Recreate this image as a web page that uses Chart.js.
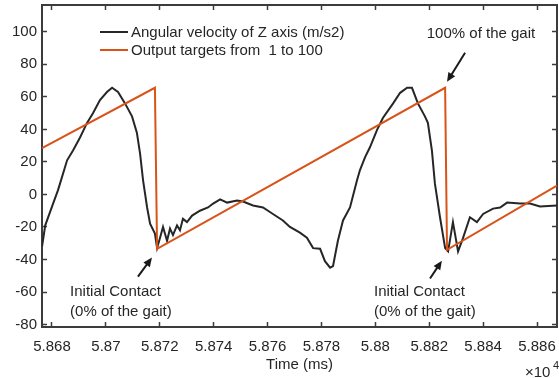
<!DOCTYPE html>
<html>
<head>
<meta charset="utf-8">
<script src="https://cdn.jsdelivr.net/npm/chart.js@4"></script>
<style>
  html, body { margin: 0; padding: 0; background: #fff; }
  canvas { display: block; }
</style>
</head>
<body>
<canvas id="grafico" width="559" height="378"></canvas>
<script>
// Tiempos (x10^4 ms) y valores
const tiempoVelocidad = [
  5.86763, 5.86775, 5.86804, 5.86822, 5.8683, 5.86856, 5.86878, 5.86904, 5.8693, 5.86952,
  5.86978, 5.87004, 5.87023, 5.87045, 5.87071, 5.87097, 5.87115, 5.87127, 5.87138, 5.87153,
  5.87164, 5.87182, 5.8719, 5.87201, 5.87212, 5.87227, 5.87238, 5.87249, 5.87264, 5.87275,
  5.87286, 5.87301, 5.8732, 5.87349, 5.87379, 5.87398, 5.87424, 5.8745, 5.87487, 5.87509,
  5.87546, 5.87583, 5.8762, 5.87657, 5.87683, 5.8772, 5.87746, 5.87769, 5.87795, 5.87813,
  5.87832, 5.87843, 5.87861, 5.8788, 5.87906, 5.87932, 5.87943, 5.87962, 5.8798, 5.88006,
  5.88028, 5.88066, 5.88092, 5.88118, 5.88136, 5.88158, 5.88184, 5.88195, 5.8821, 5.88221,
  5.8824, 5.88259, 5.8827, 5.88288, 5.88307, 5.88325, 5.88351, 5.88377, 5.884, 5.88437,
  5.88463, 5.88489, 5.88537, 5.88574, 5.88611, 5.88674
];
const velocidadAngular = [
  -32, -19, -5.6, 2.5, 6.8, 21, 27, 35, 44, 50,
  58, 63, 65.6, 63, 56, 48, 38, 25, 8.7, -8,
  -18, -24, -33, -26.6, -20, -28.5, -21, -25, -19, -22,
  -15, -17, -13, -10, -8, -5.6, -3, -5, -3.7, -4.3,
  -6.8, -8, -12, -16, -20, -23.5, -26.6, -33, -33.4, -41,
  -45, -44, -28.5, -16, -8, 8.7, 15, 23, 29, 39.6,
  47, 56, 62.5, 65.6, 65.6, 56, 48, 44, 27, 6.8,
  -14, -33, -35, -17, -35, -27, -14, -17, -12, -8.7,
  -8, -5, -5.6, -5.6, -7.4, -6.8
];
const tiempoObjetivo = [5.86763, 5.87182, 5.8719, 5.88259, 5.88266, 5.88674];
const valorObjetivo = [28.5, 65.6, -33.4, 65.6, -34, 5.5];

const ticksX = [5.868, 5.87, 5.872, 5.874, 5.876, 5.878, 5.88, 5.882, 5.884, 5.886];
const ticksY = [-80, -60, -40, -20, 0, 20, 40, 60, 80, 100];

const etiquetas = ["Angular velocity of Z axis (m/s2)", "Output targets from  1 to 100"];
const colores = ["#262626", "#D95319"];

const limX = [5.867629, 5.886742];
const limY = [-81.5, 116.5];

const fuente = "'Liberation Sans', Arial, sans-serif";
const colorEje = "#3c3c3c";
const colorTexto = "#262626";

function fijarTicks(lista) {
  return (scale) => { scale.ticks = lista.map((v) => ({ value: v })); };
}

function formatoX(v) {
  return String(parseFloat(Number(v).toFixed(3)));
}

// Fija el tamaño del eje y quita el relleno que Chart.js reserva para las etiquetas
function fijarTamano(prop, valor) {
  return (s) => {
    s[prop] = valor;
    s.paddingTop = 0;
    s.paddingBottom = 0;
    s.paddingLeft = 0;
    s.paddingRight = 0;
  };
}

const ejeBase = {
  type: "linear",
  border: { display: true, color: colorEje, width: 2 },
  grid: { drawOnChartArea: false, drawTicks: true, tickLength: -5, tickColor: colorEje, tickWidth: 1.5 },
};

// Plugin para leyenda, anotaciones y el factor x10^4
const superposicion = {
  id: "superposicion",
  afterDraw(chart) {
    const { ctx, scales: { x, y } } = chart;
    ctx.save();

    // Leyenda
    chart.data.datasets.forEach((ds, i) => {
      const yy = 32 + i * 18;
      ctx.strokeStyle = ds.borderColor;
      ctx.lineWidth = 2;
      ctx.beginPath();
      ctx.moveTo(100, yy);
      ctx.lineTo(128, yy);
      ctx.stroke();
      ctx.fillStyle = colorTexto;
      ctx.font = "15px " + fuente;
      ctx.textAlign = "left";
      ctx.textBaseline = "middle";
      ctx.fillText(ds.label, 131, yy + 1);
    });

    const flecha = (x0, y0, x1, y1) => {
      const ax = x.getPixelForValue(x0), ay = y.getPixelForValue(y0);
      const bx = x.getPixelForValue(x1), by = y.getPixelForValue(y1);
      const ang = Math.atan2(by - ay, bx - ax);
      ctx.strokeStyle = "#1a1a1a";
      ctx.fillStyle = "#1a1a1a";
      ctx.lineWidth = 2;
      ctx.beginPath();
      ctx.moveTo(ax, ay);
      ctx.lineTo(bx - 6 * Math.cos(ang), by - 6 * Math.sin(ang));
      ctx.stroke();
      ctx.beginPath();
      ctx.moveTo(bx, by);
      ctx.lineTo(bx - 9 * Math.cos(ang) + 4 * Math.sin(ang), by - 9 * Math.sin(ang) - 4 * Math.cos(ang));
      ctx.lineTo(bx - 9 * Math.cos(ang) - 4 * Math.sin(ang), by - 9 * Math.sin(ang) + 4 * Math.cos(ang));
      ctx.closePath();
      ctx.fill();
    };

    const texto = (t, xv, yv, alinear) => {
      ctx.fillStyle = colorTexto;
      ctx.font = "15px " + fuente;
      ctx.textAlign = alinear;
      ctx.textBaseline = "middle";
      ctx.fillText(t, x.getPixelForValue(xv), y.getPixelForValue(yv));
    };

    texto("100% of the gait", 5.88392, 98.8, "center");
    flecha(5.88333, 87.1, 5.88266, 69.3);

    texto("Initial Contact", 5.86867, -59.7, "left");
    texto("(0% of the gait)", 5.86867, -72, "left");
    flecha(5.87119, -50.5, 5.87171, -38.8);

    texto("Initial Contact", 5.87995, -59.7, "left");
    texto("(0% of the gait)", 5.87995, -72, "left");
    flecha(5.88203, -51.7, 5.88247, -40.7);

    // Factor de escala del eje x
    ctx.fillStyle = colorTexto;
    ctx.textAlign = "left";
    ctx.textBaseline = "middle";
    ctx.font = "15px " + fuente;
    ctx.fillText("\u00d710", 525, 373);
    ctx.font = "11px " + fuente;
    ctx.fillText("4", 553, 366);

    ctx.restore();
  },
};

new Chart(document.getElementById("grafico").getContext("2d"), {
  type: "line",
  data: {
    datasets: [
      {
        label: etiquetas[0],
        data: tiempoVelocidad.map((t, i) => ({ x: t, y: velocidadAngular[i] })),
        borderColor: colores[0],
        borderWidth: 2,
        pointRadius: 0,
        tension: 0,
        order: 1,
      },
      {
        label: etiquetas[1],
        data: tiempoObjetivo.map((t, i) => ({ x: t, y: valorObjetivo[i] })),
        borderColor: colores[1],
        borderWidth: 2,
        pointRadius: 0,
        tension: 0,
        order: 0,
      },
    ],
  },
  options: {
    responsive: false,
    animation: false,
    layout: { padding: 0 },
    plugins: { legend: { display: false }, tooltip: { enabled: false } },
    scales: {
      x: {
        ...ejeBase,
        position: "bottom",
        min: limX[0],
        max: limX[1],
        afterBuildTicks: fijarTicks(ticksX),
        afterFit: fijarTamano("height", 51),
        ticks: {
          color: colorTexto,
          padding: 16,
          maxRotation: 0,
          autoSkip: false,
          font: { family: fuente, size: 15 },
          callback: (v) => formatoX(v),
        },
        title: {
          display: true,
          text: "Time (ms)",
          color: colorTexto,
          font: { family: fuente, size: 15 },
          padding: { top: 0, bottom: 4 },
        },
      },
      x2: {
        ...ejeBase,
        position: "top",
        min: limX[0],
        max: limX[1],
        afterBuildTicks: fijarTicks(ticksX),
        afterFit: fijarTamano("height", 5),
        ticks: { display: false },
      },
      y: {
        ...ejeBase,
        position: "left",
        min: limY[0],
        max: limY[1],
        afterBuildTicks: fijarTicks(ticksY),
        afterFit: fijarTamano("width", 42),
        ticks: {
          color: colorTexto,
          padding: 10,
          autoSkip: false,
          font: { family: fuente, size: 15 },
        },
      },
      y2: {
        ...ejeBase,
        position: "right",
        min: limY[0],
        max: limY[1],
        afterBuildTicks: fijarTicks(ticksY),
        afterFit: fijarTamano("width", 2),
        ticks: { display: false },
      },
    },
  },
  plugins: [superposicion],
});
</script>
</body>
</html>
